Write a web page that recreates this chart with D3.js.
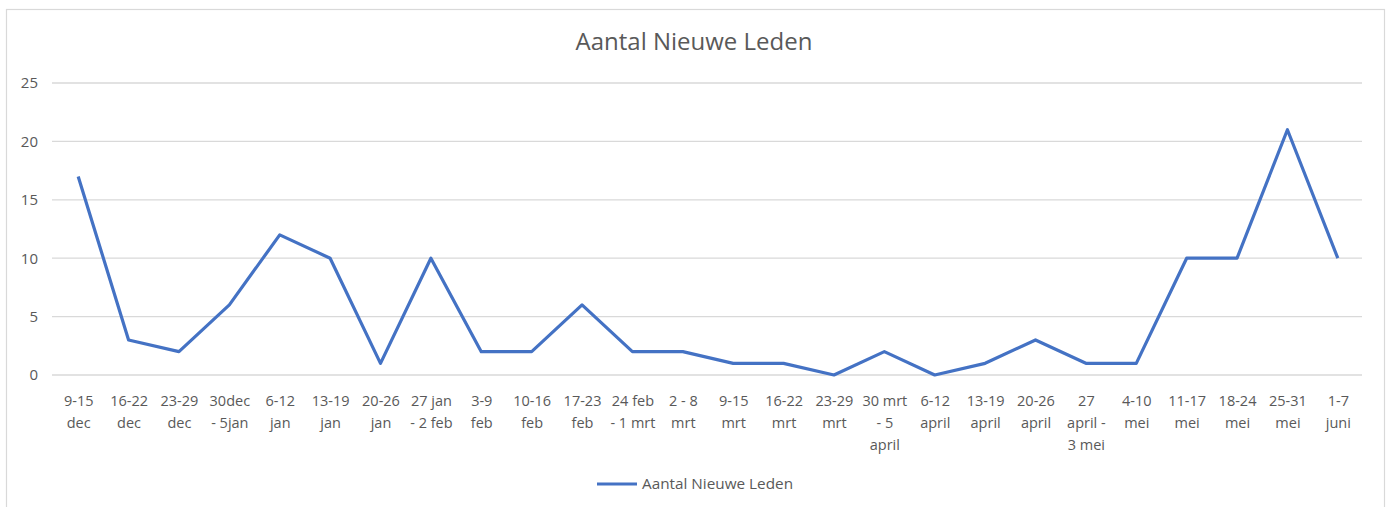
<!DOCTYPE html>
<html>
<head>
<meta charset="utf-8">
<script src="https://cdn.jsdelivr.net/npm/d3@7"></script>
<style>
  html, body { margin: 0; padding: 0; background: #fff; }
  svg { display: block; font-family: "Open Sans", sans-serif; }
</style>
</head>
<body>
<svg id="chart" width="1386" height="507"></svg>
<script>
const categories = [
  "9-15\ndec", "16-22\ndec", "23-29\ndec", "30dec\n- 5jan", "6-12\njan",
  "13-19\njan", "20-26\njan", "27 jan\n- 2 feb", "3-9\nfeb", "10-16\nfeb",
  "17-23\nfeb", "24 feb\n- 1 mrt", "2 - 8\nmrt", "9-15\nmrt", "16-22\nmrt",
  "23-29\nmrt", "30 mrt\n- 5\napril", "6-12\napril", "13-19\napril", "20-26\napril",
  "27\napril -\n3 mei", "4-10\nmei", "11-17\nmei", "18-24\nmei", "25-31\nmei", "1-7\njuni"
];
const seriesName = "Aantal Nieuwe Leden";
const values = [17, 3, 2, 6, 12, 10, 1, 10, 2, 2, 6, 2, 2, 1, 1, 0, 2, 0, 1, 3, 1, 1, 10, 10, 21, 10];
const yTicks = [0, 5, 10, 15, 20, 25];
const title = "Aantal Nieuwe Leden";

const svg = d3.select("#chart");
const textColor = "#595959";
const gridColor = "#d9d9d9";
const lineColor = "#4472C4";

// frame
svg.append("rect")
  .attr("x", 6.5).attr("y", 9.5)
  .attr("width", 1378).attr("height", 520)
  .attr("fill", "none").attr("stroke", gridColor).attr("stroke-width", 1.2);

const x = d3.scalePoint().domain(d3.range(categories.length)).range([53, 1363]).padding(0.5);
const y = d3.scaleLinear().domain([0, 25]).range([375, 83]);

// gridlines
svg.append("g").selectAll("line").data(yTicks).join("line")
  .attr("x1", 52).attr("x2", 1362)
  .attr("y1", d => y(d)).attr("y2", d => y(d))
  .attr("stroke", gridColor).attr("stroke-width", 1.3);

// y axis labels
const yAxis = d3.axisLeft(y).tickValues(yTicks).tickSize(0).tickPadding(0);
const yg = svg.append("g").attr("transform", "translate(38,0)").call(yAxis);
yg.select(".domain").remove();
yg.selectAll("text").attr("fill", textColor).style("font-size", "15px")
  .style("font-family", "'Open Sans', sans-serif");

// x axis labels (multi-line)
const xAxis = d3.axisBottom(x).tickSize(0).tickFormat(() => "");
const xg = svg.append("g").attr("transform", "translate(0,375)").call(xAxis);
xg.select(".domain").remove();
xg.selectAll(".tick").each(function(d) {
  const t = d3.select(this).select("text").text(null)
    .attr("y", 0).attr("dy", null)
    .attr("fill", textColor).style("font-size", "14.5px")
    .style("font-family", "'Open Sans', sans-serif");
  categories[d].split("\n").forEach((line, i) => {
    t.append("tspan").attr("x", 0).attr("y", 31 + i * 22).text(line);
  });
});

// line
const line = d3.line().x((d, i) => x(i)).y(d => y(d));
svg.append("path").datum(values)
  .attr("d", line)
  .attr("fill", "none")
  .attr("stroke", lineColor)
  .attr("stroke-width", 3.2)
  .attr("stroke-linejoin", "round");

// title
svg.append("text").attr("x", 694).attr("y", 50)
  .attr("text-anchor", "middle").attr("fill", textColor)
  .style("font-size", "24px").text(title);

// legend
svg.append("line").attr("x1", 597).attr("x2", 637).attr("y1", 484).attr("y2", 484)
  .attr("stroke", lineColor).attr("stroke-width", 3.2);
svg.append("text").attr("x", 642).attr("y", 489)
  .attr("fill", textColor).style("font-size", "15.3px").text(seriesName);
</script>
</body>
</html>
